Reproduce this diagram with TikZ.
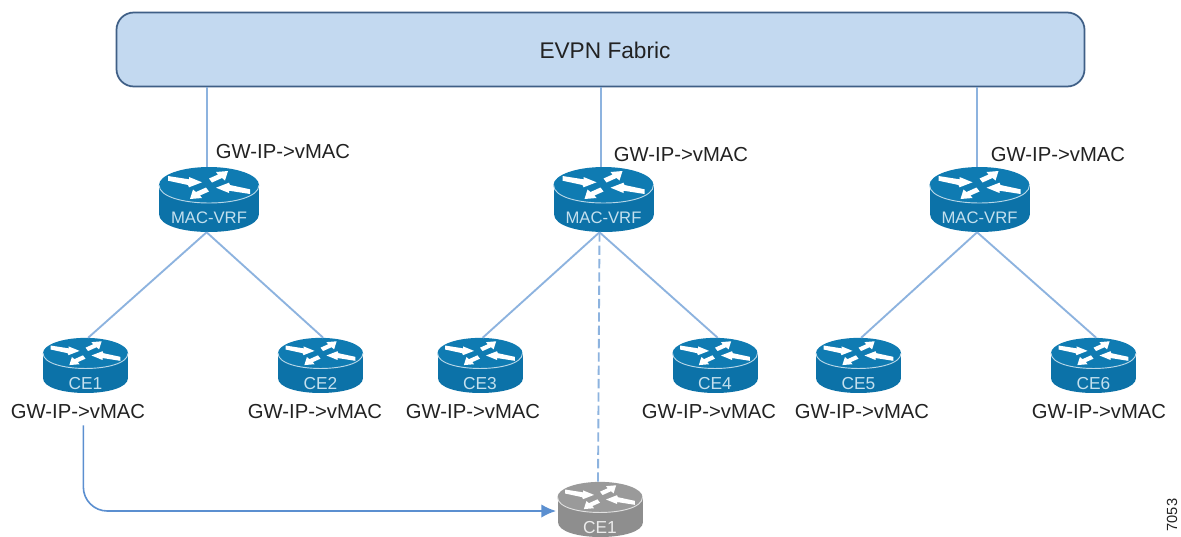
\documentclass[tikz,border=0pt]{standalone}
\usepackage{fontspec}
\setmainfont{Liberation Sans}
\usetikzlibrary{arrows.meta}
\definecolor{fabfill}{HTML}{C3D9F0}
\definecolor{fabline}{HTML}{3F5F86}
\definecolor{linkc}{HTML}{8DB3DF}
\definecolor{arrc}{HTML}{5B8FD0}
\definecolor{rtop}{HTML}{0F7BB2}
\definecolor{rside}{HTML}{0C72A8}
\definecolor{gtop}{HTML}{9A9A9A}
\definecolor{gside}{HTML}{8E8E8E}
\definecolor{rtxt}{HTML}{C4E0EE}
\definecolor{gtxt}{HTML}{ECECEC}
\definecolor{txtc}{HTML}{222222}
\tikzset{
  link/.style={draw=linkc,line width=1.4pt},
  gwlabel/.style={font=\fontsize{15.2}{17}\selectfont,text=txtc,inner sep=0pt},
  bigrouter/.style={minimum width=75pt,minimum height=48.75pt,inner sep=0pt},
  smallrouter/.style={minimum width=63.75pt,minimum height=41.25pt,inner sep=0pt},
  rlabel/.style={inner sep=0pt},
}
% name, x, y (centre of the outline), node style, scale, top colour, side colour, text colour, font size
\newcommand{\routerdraw}[9]{%
  \node[#4] (#1) at (#2,#3) {};
  \begin{scope}[shift={(#2,#3)},scale=#5]
    \fill[#7] (-50,-14.5) rectangle (50,14.5);
    \fill[#7] (-50,14.5) .. controls (-50,38.5) and (50,38.5) .. (50,14.5) -- cycle;
    \fill[#6] (0,-14.5) ellipse [x radius=50,y radius=18];
    \draw[white!70!#6,line width=.7pt] (-50,-14.5) .. controls (-50,9.5) and (50,9.5) .. (50,-14.5);
    \begin{scope}[shift={(0,-14.5)}]
      \fill[white] (-41,-9) -- (-20,-5.7) -- (-20,-8) -- (-7,-2.7) -- (-20,2.3) -- (-21,0) -- (-41,-4.3) -- cycle;
      \fill[white] (41,9) -- (20,5.7) -- (20,8) -- (7,2.7) -- (20,-2.3) -- (21,0) -- (41,4.3) -- cycle;
      \fill[white] (0,-6.5) -- (9,-10.5) -- (7,-13) -- (19,-14) -- (16,-4.5) -- (13,-7) -- (3,-2.5) -- cycle;
      \fill[white] (0,6.5) -- (-9,10.5) -- (-7,13) -- (-19,14) -- (-16,4.5) -- (-13,7) -- (-3,2.5) -- cycle;
    \end{scope}
    \node[rlabel,text=#8] (#1-label) at (0,\routerlabely) {\fontsize{#9}{14}\selectfont\routerlabel};
  \end{scope}
}
\newcommand{\routerlabel}{}
\newcommand{\routerlabely}{18.5}
\begin{document}
\begin{tikzpicture}[x=.75pt,y=-.75pt]
\useasboundingbox (0,0) rectangle (1181,536);
\clip (0,0) rectangle (1181,536);
\fill[white] (0,0) rectangle (1181,536);

\node[draw=fabline,fill=fabfill,line width=1.3pt,rounded corners=13pt,minimum width=726pt,minimum height=55.5pt,inner sep=0pt] (fabric) at (600.5,49.5) {};
\node[font=\fontsize{17}{19}\selectfont,text=txtc,inner sep=0pt] (fabriclabel) at (605,50) {EVPN Fabric};

\renewcommand{\routerlabel}{MAC-VRF}
\routerdraw{m1}{209}{199.5}{bigrouter}{1}{rtop}{rside}{rtxt}{12.5}
\routerdraw{m2}{603.5}{199.5}{bigrouter}{1}{rtop}{rside}{rtxt}{12.5}
\routerdraw{m3}{979.5}{199.5}{bigrouter}{1}{rtop}{rside}{rtxt}{12.5}
\renewcommand{\routerlabely}{21}
\renewcommand{\routerlabel}{CE1}
\routerdraw{c1}{85.5}{365.5}{smallrouter}{.85}{rtop}{rside}{rtxt}{13}
\renewcommand{\routerlabel}{CE2}
\routerdraw{c2}{320.5}{365.5}{smallrouter}{.85}{rtop}{rside}{rtxt}{13}
\renewcommand{\routerlabel}{CE3}
\routerdraw{c3}{480}{365.5}{smallrouter}{.85}{rtop}{rside}{rtxt}{13}
\renewcommand{\routerlabel}{CE4}
\routerdraw{c4}{715}{365.5}{smallrouter}{.85}{rtop}{rside}{rtxt}{13}
\renewcommand{\routerlabel}{CE5}
\routerdraw{c5}{858.5}{365.5}{smallrouter}{.85}{rtop}{rside}{rtxt}{13}
\renewcommand{\routerlabel}{CE6}
\routerdraw{c6}{1093.5}{365.5}{smallrouter}{.85}{rtop}{rside}{rtxt}{13}
\renewcommand{\routerlabel}{CE1}
\routerdraw{g1}{600}{509.5}{smallrouter}{.85}{gtop}{gside}{gtxt}{13}

\node[gwlabel] (lm1) at (283,152) {GW-IP->vMAC};
\node[gwlabel] (lm2) at (681,155) {GW-IP->vMAC};
\node[gwlabel] (lm3) at (1058,155) {GW-IP->vMAC};
\node[gwlabel] (lc1) at (78,412) {GW-IP->vMAC};
\node[gwlabel] (lc2) at (315,412) {GW-IP->vMAC};
\node[gwlabel] (lc3) at (473,412) {GW-IP->vMAC};
\node[gwlabel] (lc4) at (709,412) {GW-IP->vMAC};
\node[gwlabel] (lc5) at (862,412) {GW-IP->vMAC};
\node[gwlabel] (lc6) at (1099,412) {GW-IP->vMAC};
\node[rotate=90,font=\fontsize{11}{13}\selectfont,text=txtc,inner sep=0pt] (fig) at (1172,515) {7053};

\foreach \r in {m1,m2,m3}
  \draw[link] ([xshift=-1.8pt]\r.north) -- ([xshift=-1.8pt]\r.north |- fabric.south);
\draw[link] ([xshift=-1.8pt]m1.south) -- ([xshift=2pt]c1.north);
\draw[link] ([xshift=-1.8pt]m1.south) -- ([xshift=2pt]c2.north);
\draw[link] ([xshift=-3pt]m2.south) -- ([xshift=2pt]c3.north);
\draw[link] ([xshift=-3pt]m2.south) -- ([xshift=2pt]c4.north);
\draw[link] ([xshift=-1.8pt]m3.south) -- ([xshift=2pt]c5.north);
\draw[link] ([xshift=-1.8pt]m3.south) -- ([xshift=2pt]c6.north);
\draw[link,dashed,dash pattern=on 7pt off 3pt] ([xshift=-3pt]m2.south) -- ([xshift=-1.5pt]g1.north);
\coordinate (arrowend) at (556,511);
\draw[draw=arrc,line width=1.2pt,rounded corners=18pt,-{Latex[length=11pt,width=10pt]}] ([xshift=4pt,yshift=-4.5pt]lc1.south) |- (arrowend);
\end{tikzpicture}
\end{document}
